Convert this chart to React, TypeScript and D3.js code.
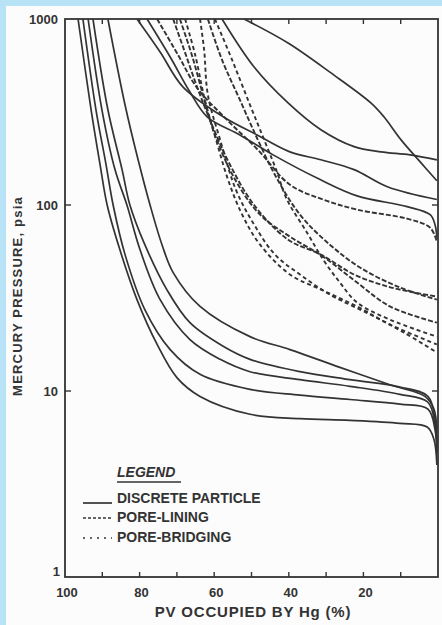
import React from 'react';
import * as d3 from 'd3';

// Each curve: [percent of pore volume occupied by Hg, mercury pressure in psia]
type Pt = [number, number];

// Discrete-particle samples (solid curves)
const discreteA: Pt[] = [[88.5, 1000], [83.9, 345], [80.4, 175], [77.2, 100], [74.0, 61.2], [71.0, 43.3], [63.8, 28.5], [50.4, 19.6], [39.7, 16.7], [26.3, 13.4], [12.9, 10.8], [3.5, 9.35], [1.1, 8.0], [0.3, 6.2]];
const discreteB: Pt[] = [[92.5, 1000], [88.5, 325], [84.7, 155], [82.6, 100], [78.6, 61.2], [72.7, 35.1], [66.5, 23.3], [57.6, 17.4], [50.4, 14.8], [37.0, 12.7], [23.6, 11.5], [10.2, 10.5], [2.7, 9.35], [0.8, 7.0], [0.3, 5.2]];
const discreteC: Pt[] = [[93.8, 1000], [90.1, 325], [86.6, 155], [83.4, 100], [79.9, 57.6], [74.5, 31.0], [66.5, 18.9], [58.4, 14.8], [50.4, 12.7], [37.0, 11.5], [23.6, 10.6], [10.2, 9.6], [2.7, 8.7], [0.8, 6.6], [0.3, 4.9]];
const discreteD: Pt[] = [[95.2, 1000], [91.7, 325], [89.0, 165], [87.1, 100], [83.9, 54.1], [78.6, 27.4], [71.8, 16.7], [63.8, 12.3], [50.4, 10.2], [37.0, 9.5], [23.6, 9.0], [10.2, 8.5], [2.7, 8.0], [0.8, 6.2], [0.3, 4.6]];
const discreteE: Pt[] = [[96.5, 1000], [93.0, 325], [90.6, 165], [88.7, 100], [85.3, 57.6], [80.7, 31.0], [75.3, 17.8], [70.0, 11.8], [63.8, 9.35], [50.4, 7.5], [37.0, 7.1], [23.6, 6.95], [10.2, 6.7], [2.9, 6.4], [1.1, 5.5], [0.3, 4.0]];
const discreteF: Pt[] = [[52.0, 1000], [40.2, 743], [28.7, 513], [18.0, 354], [14.5, 298], [9.9, 224], [4.6, 169], [0.3, 135]];
const discreteG: Pt[] = [[57.9, 1000], [49.3, 552], [40.2, 354], [31.4, 254], [22.5, 206], [15.3, 193], [7.5, 186], [0.3, 175]];
const discreteH: Pt[] = [[80.7, 1000], [74.5, 665], [68.4, 432], [57.6, 298], [48.5, 238], [39.7, 193], [31.4, 175], [22.5, 155], [13.4, 125], [0.3, 107]];
const discreteI: Pt[] = [[78.0, 1000], [71.8, 625], [66.5, 405], [61.9, 298], [53.1, 238], [44.2, 186], [31.6, 137], [21.7, 112], [8.3, 98], [2.1, 88.7], [0.8, 78.4], [0.3, 66.8]];

// Pore-lining samples (short dashes)
const liningA: Pt[] = [[75.3, 1000], [69.7, 641], [64.6, 426], [57.1, 294], [48.3, 198], [39.7, 128.5], [30.8, 107], [21.7, 94.4], [8.3, 84.4], [2.1, 75.5], [0.3, 63.5]];
const liningB: Pt[] = [[71.0, 1000], [67.6, 641], [64.3, 416], [60.6, 270], [55.8, 165], [49.3, 100], [40.2, 65.1], [31.4, 54.1], [22.5, 42.3], [13.4, 36.4], [4.8, 33.4], [0.3, 32.2]];
const liningC: Pt[] = [[61.7, 1000], [57.9, 603], [53.1, 367], [48.3, 224], [43.7, 145], [37.0, 88.7], [29.0, 61.2], [20.9, 46.1], [10.2, 36.0], [0.3, 31.0]];
const liningD: Pt[] = [[69.2, 1000], [66.0, 641], [63.0, 391], [59.8, 238], [54.4, 137], [47.7, 88.7], [39.7, 67.6], [30.8, 52.8], [21.7, 38.3], [12.9, 28.5], [0.3, 23.3]];

// Pore-bridging samples (spaced dashes)
const bridgingA: Pt[] = [[59.8, 1000], [55.2, 603], [50.4, 345], [46.6, 224], [43.4, 155], [40.5, 107], [35.1, 71.0], [30.8, 50.9], [26.3, 38.3], [21.7, 29.9], [12.9, 24.2], [0.3, 19.6]];
const bridgingB: Pt[] = [[67.8, 1000], [65.1, 641], [62.5, 367], [59.5, 224], [56.3, 137], [52.5, 88.7], [47.7, 61.2], [39.7, 42.3], [30.8, 34.7], [21.7, 28.5], [12.9, 22.8], [0.3, 17.8]];
const bridgingC: Pt[] = [[63.8, 1000], [62.7, 682], [61.7, 391], [58.4, 224], [54.2, 121], [49.3, 78.4], [43.7, 54.1], [37.0, 42.3], [29.0, 33.0], [18.2, 25.8], [9.1, 20.6], [0.3, 16.1]];

const discreteCurves = [discreteA, discreteB, discreteC, discreteD, discreteE, discreteF, discreteG, discreteH, discreteI];
const liningCurves = [liningA, liningB, liningC, liningD];
const bridgingCurves = [bridgingA, bridgingB, bridgingC];

const xMinorTicks = [90, 80, 70, 60, 50, 40, 30, 20, 10];
const xTickLabels = [100, 80, 60, 40, 20];
const yTickLabels = [1000, 100, 10, 1];
const yInnerTicks = [100, 10];

const legendTitle = 'LEGEND';
const legendItems = ['DISCRETE PARTICLE', 'PORE-LINING', 'PORE-BRIDGING'];
const xTitle = 'PV OCCUPIED BY Hg (%)';
const yTitle = 'MERCURY PRESSURE, psia';

const W = 442;
const H = 625;
const left = 65;
const right = 438;
const top = 19;
const bottom = 577;

const INK = '#333';
const FONT = '"Liberation Sans", Arial, Helvetica, sans-serif';

export default function App() {
  const x = d3.scaleLinear().domain([100, 0]).range([left, right]);
  const y = d3.scaleLog().domain([1, 1000]).range([bottom, top]);
  const line = d3
    .line<Pt>()
    .x((d) => x(d[0]))
    .y((d) => y(d[1]))
    .curve(d3.curveCatmullRom.alpha(0.5));

  const liningDash = '5 2';
  const bridgingDash = '4 3';

  return (
    <svg
      width={W}
      height={H}
      viewBox={`0 0 ${W} ${H}`}
      style={{ position: 'absolute', left: 0, top: 0, display: 'block' }}
      fontFamily={FONT}
    >
      <rect x={0} y={0} width={W} height={H} fill="#b8e2f6" />
      <rect x={6} y={6} width={W - 6} height={H - 6} fill="#fcfcfc" />

      <defs>
        <clipPath id="plot-clip">
          <rect x={left} y={top} width={right - left} height={bottom - top} />
        </clipPath>
      </defs>

      <g clipPath="url(#plot-clip)" fill="none" stroke={INK} strokeLinejoin="round">
        {discreteCurves.map((c, i) => (
          <path key={`d${i}`} d={line(c) ?? ''} strokeWidth={1.7} />
        ))}
        {liningCurves.map((c, i) => (
          <path key={`l${i}`} d={line(c) ?? ''} strokeWidth={1.9} strokeDasharray={liningDash} />
        ))}
        {bridgingCurves.map((c, i) => (
          <path key={`b${i}`} d={line(c) ?? ''} strokeWidth={1.9} strokeDasharray={bridgingDash} />
        ))}
      </g>

      {/* frame */}
      <rect x={left} y={top} width={right - left} height={bottom - top} fill="none" stroke={INK} strokeWidth={1.8} />

      {/* ticks, inward on all sides */}
      <g stroke={INK} strokeWidth={1.4}>
        {xMinorTicks.map((t) => (
          <g key={`xt${t}`}>
            <line x1={x(t)} x2={x(t)} y1={bottom} y2={bottom - 5} />
            <line x1={x(t)} x2={x(t)} y1={top} y2={top + 5} />
          </g>
        ))}
        {yInnerTicks.map((t) => (
          <g key={`yt${t}`}>
            <line x1={left} x2={left + 6} y1={y(t)} y2={y(t)} />
            <line x1={right} x2={right - 6} y1={y(t)} y2={y(t)} />
          </g>
        ))}
      </g>

      {/* tick labels */}
      <g fill={INK} fontSize={13} fontWeight="bold">
        {xTickLabels.map((t) => (
          <text key={`xl${t}`} x={x(t) + 2} y={597} textAnchor="middle">
            {t}
          </text>
        ))}
        {yTickLabels.map((t) => (
          <text
            key={`yl${t}`}
            x={t === 1 ? left - 5 : left - 7}
            y={t === 1 ? y(t) - 1 : y(t) + 4.5}
            textAnchor="end"
          >
            {t}
          </text>
        ))}
      </g>

      {/* axis titles */}
      <text x={253} y={617} textAnchor="middle" fill={INK} fontSize={15} fontWeight="bold" letterSpacing={0.8}>
        {xTitle}
      </text>
      <text
        transform={`translate(22, 296) rotate(-90)`}
        textAnchor="middle"
        fill={INK}
        fontSize={13}
        fontWeight="bold"
        letterSpacing={1.2}
      >
        {yTitle}
      </text>

      {/* legend */}
      <g fill={INK} fontSize={14} fontWeight="bold">
        <text x={117} y={477} fontStyle="italic">
          {legendTitle}
        </text>
        <line x1={117} x2={181} y1={482} y2={482} stroke={INK} strokeWidth={1.4} />
        <line x1={83} x2={112} y1={503} y2={503} stroke={INK} strokeWidth={1.7} />
        <text x={117} y={503}>{legendItems[0]}</text>
        <line x1={83} x2={112} y1={518} y2={518} stroke={INK} strokeWidth={1.7} strokeDasharray="3 2" />
        <text x={117} y={522}>{legendItems[1]}</text>
        <line x1={83} x2={112} y1={538} y2={538} stroke={INK} strokeWidth={1.7} strokeDasharray="2 5" />
        <text x={117} y={542}>{legendItems[2]}</text>
      </g>
    </svg>
  );
}
